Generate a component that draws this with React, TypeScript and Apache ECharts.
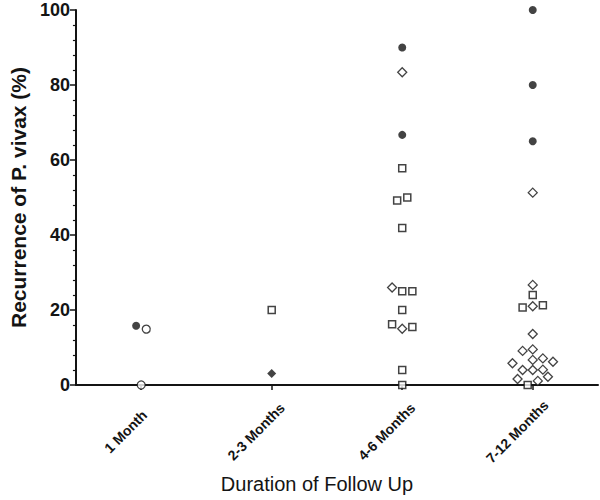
import React, { useEffect, useRef } from "react";
import * as echarts from "echarts";

// Categories on the x axis
const categories = ["1 Month", "2-3 Months", "4-6 Months", "7-12 Months"];
const yTicks = { min: 0, max: 100, interval: 20 };

// Each point: [category index, recurrence (%), horizontal jitter slot]
const filledCircles = [
  [0, 15.8, -1],
  [2, 90.0, 0],
  [2, 66.7, 0],
  [3, 100.0, 0],
  [3, 80.0, 0],
  [3, 65.0, 0],
];
const openCircles = [
  [0, 14.9, 1],
  [0, 0.0, 0],
];
const openSquares = [
  [1, 20.0, 0],
  [2, 57.8, 0],
  [2, 49.2, -1],
  [2, 50.0, 1],
  [2, 41.9, 0],
  [2, 25.0, 0],
  [2, 25.0, 2],
  [2, 20.0, 0],
  [2, 16.2, -2],
  [2, 15.5, 2],
  [2, 4.0, 0],
  [2, 0.0, 0],
  [3, 24.0, 0],
  [3, 20.7, -2],
  [3, 21.3, 2],
  [3, 0.0, -1],
];
const openDiamonds = [
  [2, 83.4, 0],
  [2, 26.0, -2],
  [2, 15.0, 0],
  [3, 51.3, 0],
  [3, 26.7, 0],
  [3, 21.0, 0],
  [3, 13.6, 0],
  [3, 9.1, -2],
  [3, 9.5, 0],
  [3, 5.8, -4],
  [3, 6.7, 0],
  [3, 7.1, 2],
  [3, 6.2, 4],
  [3, 4.0, -2],
  [3, 4.0, 0],
  [3, 4.1, 2],
  [3, 1.6, -3],
  [3, 2.2, 3],
  [3, 1.1, 1],
];
const filledDiamonds = [[1, 3.1, 0]];

const SLOT = 0.0388; // jitter slot width in category units
const INK = "#141414";
const FONT = "'Liberation Sans', Arial, Helvetica, sans-serif";

function toXY(points: number[][]) {
  return points.map((p) => [p[0] + 0.5 + p[2] * SLOT, p[1]]);
}

export default function App() {
  const ref = useRef<HTMLDivElement>(null);

  useEffect(() => {
    if (!ref.current) return;
    const chart = echarts.init(ref.current, undefined, { renderer: "svg" });

    const base = {
      type: "scatter",
      xAxisIndex: 1,
      yAxisIndex: 0,
      clip: false,
      z: 5,
    };

    chart.setOption({
      animation: false,
      backgroundColor: "#ffffff",
      grid: { left: 62, right: 2, top: 10, bottom: 115, containLabel: false },
      xAxis: [
        {
          type: "category",
          data: categories,
          boundaryGap: true,
          position: "bottom",
          axisLine: { show: true, lineStyle: { color: INK, width: 2 } },
          axisTick: {
            show: true,
            alignWithLabel: true,
            length: 5,
            lineStyle: { color: INK, width: 1.5 },
          },
          axisLabel: {
            interval: 0,
            rotate: 45,
            align: "center",
            verticalAlign: "middle",
            padding: [0, 44, 0, 0],
            margin: 31,
            color: INK,
            fontFamily: FONT,
            fontWeight: "bold",
            fontSize: 14,
          },
          splitLine: { show: false },
          name: "Duration of Follow Up",
          nameLocation: "middle",
          nameGap: 89,
          nameTextStyle: {
            color: INK,
            fontFamily: FONT,
            fontSize: 20,
            padding: [0, 40, 0, 0],
          },
        },
        {
          type: "value",
          min: 0,
          max: 4,
          show: false,
          splitLine: { show: false },
        },
      ],
      yAxis: {
        type: "value",
        min: yTicks.min,
        max: yTicks.max,
        interval: yTicks.interval,
        axisLine: { show: true, lineStyle: { color: INK, width: 2 } },
        axisTick: { show: true, length: 6, lineStyle: { color: INK, width: 1.5 } },
        minorTick: {
          show: true,
          splitNumber: 5,
          length: 3,
          lineStyle: { color: INK, width: 1.2 },
        },
        splitLine: { show: false },
        minorSplitLine: { show: false },
        axisLabel: {
          margin: 6,
          color: INK,
          fontFamily: FONT,
          fontWeight: "bold",
          fontSize: 18,
        },
        name: "Recurrence of P. vivax (%)",
        nameLocation: "middle",
        nameGap: 41,
        nameTextStyle: {
          color: INK,
          fontFamily: FONT,
          fontWeight: "bold",
          fontSize: 21,
        },
      },
      series: [
        {
          ...base,
          name: "open squares",
          symbol: "rect",
          symbolSize: 7,
          itemStyle: { color: "#ffffff", borderColor: INK, borderWidth: 1.5 },
          data: toXY(openSquares),
        },
        {
          ...base,
          name: "open diamonds",
          symbol: "diamond",
          symbolSize: 9,
          itemStyle: { color: "#ffffff", borderColor: INK, borderWidth: 1.3 },
          data: toXY(openDiamonds),
        },
        {
          ...base,
          name: "open circles",
          symbol: "circle",
          symbolSize: 8,
          itemStyle: { color: "#ffffff", borderColor: INK, borderWidth: 1.3 },
          data: toXY(openCircles),
        },
        {
          ...base,
          name: "filled circles",
          symbol: "circle",
          symbolSize: 8,
          itemStyle: { color: INK },
          data: toXY(filledCircles),
        },
        {
          ...base,
          name: "filled diamonds",
          symbol: "diamond",
          symbolSize: 9,
          itemStyle: { color: INK },
          data: toXY(filledDiamonds),
        },
      ],
    });

    return () => chart.dispose();
  }, []);

  return (
    <div
      ref={ref}
      style={{ position: "absolute", left: 0, top: 0, width: 600, height: 500 }}
    />
  );
}
